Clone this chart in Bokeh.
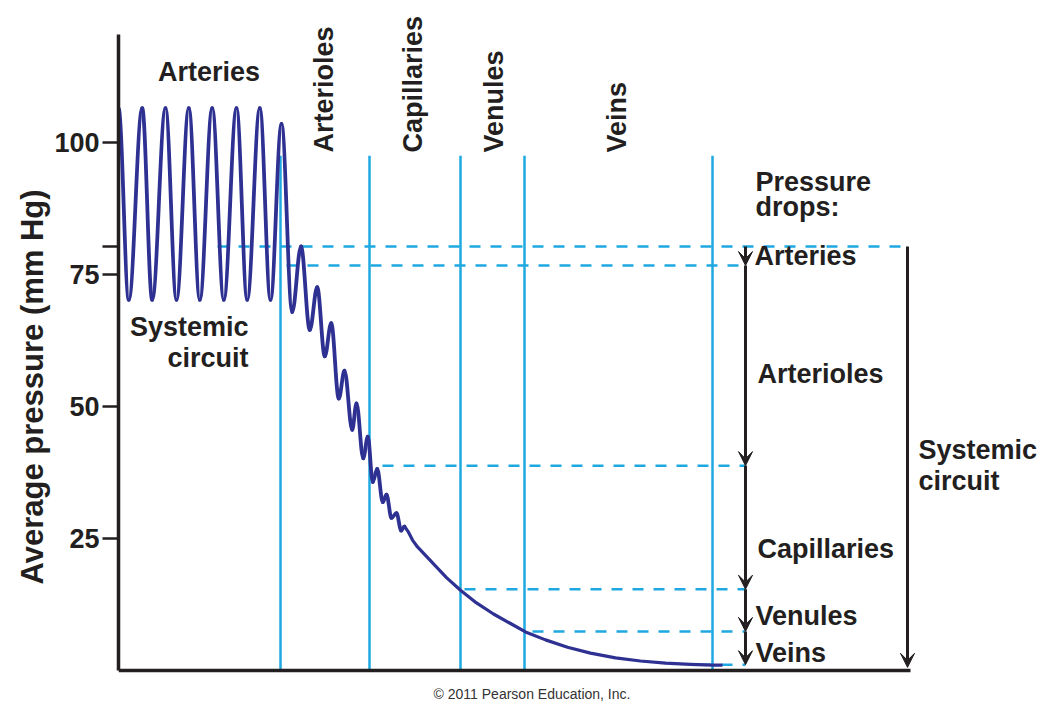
import numpy as np
from bokeh.plotting import figure
from bokeh.models import Range1d, FixedTicker, Arrow, VeeHead, Title
from bokeh.embed import file_html
from bokeh.resources import INLINE
from bokeh.core.properties import value

# ---------------- data ----------------
# pressure wave: successive peaks / troughs (position along circuit, mm Hg)
pulse_x = [118, 128.3, 141.7, 151.7, 165, 176, 188.3, 199.3, 211.7, 223.3,
           236, 246.7, 259.3, 270, 281, 291.7, 300.5, 309.3, 316.7, 324.3,
           330.7, 338.3, 344, 351.7, 356, 362.7, 367.3, 372.3, 376.7, 382.3,
           386, 391, 396, 400.7, 404]
pulse_p = [106.5, 70.2, 106.5, 70.2, 106.5, 70.2, 106.5, 70.2, 106.5, 70.2,
           106.5, 70.2, 106.5, 70.2, 103.5, 67.9, 80.3, 64.5, 72.6, 59.5,
           65.8, 51.5, 56.8, 45.6, 50.6, 40.2, 44.3, 35.7, 38.2, 31.9,
           33.3, 28.9, 29.8, 26.5, 27.3]
# smooth venous decay
decay_x = [404, 408, 412, 417, 425, 433, 446, 460, 476, 493, 510, 525,
           545, 567, 590, 615, 640, 665, 690, 712, 722]
decay_p = [27.3, 26.2, 24.7, 23.4, 21.8, 20.2, 17.6, 15.2, 12.8, 10.7, 8.9, 7.3,
           5.8, 4.4, 3.3, 2.4, 1.8, 1.4, 1.15, 1.0, 1.0]

vessel_bound_x = [280, 369, 460, 524, 712]
vessel_bound_top = 97.5
vessel_names = ["Arterioles", "Capillaries", "Venules", "Veins"]
vessel_name_x = [323, 412, 493, 616]

drop_levels = [80.3, 76.7, 38.8, 15.4, 7.4, 1.1]
drop_start_x = [217, 286, 382, 464, 532, 700]
drop_end_x = [907, 745, 745, 745, 745, 745]
drop_names = ["Arteries", "Arterioles", "Capillaries", "Venules", "Veins"]
drop_name_p = [78.5, 56.1, 23.0, 10.3, 3.3]
systemic_end = 0.6

y_ticks = [25, 50, 75, 80.3, 100]
y_tick_labels = {25: "25", 50: "50", 75: "75", 80.3: "", 100: "100"}

# ---------------- styles ----------------
NAVY = "#2e3192"
CYAN = "#1ea8e0"
INK = "#231f20"
FONT = value("Liberation Sans")

p = figure(width=1044, height=704,
           x_range=Range1d(118, 1044), y_range=Range1d(-6.439, 126.894),
           x_axis_location=None, output_backend="svg", toolbar_location=None,
           min_border_left=118, min_border_right=0, min_border_top=0,
           min_border_bottom=0)
p.outline_line_color = None
p.grid.visible = False
p.background_fill_color = "white"

ax = p.yaxis[0]
ax.ticker = FixedTicker(ticks=y_ticks)
ax.major_label_overrides = y_tick_labels
ax.bounds = (0, 120.5)
ax.axis_line_width = 3.5
ax.axis_line_color = INK
ax.major_tick_line_width = 2.5
ax.major_tick_line_color = INK
ax.major_tick_out = 16
ax.major_tick_in = 0
ax.minor_tick_line_color = None
ax.major_label_standoff = 3
ax.major_label_text_font = "Liberation Sans"
ax.major_label_text_font_style = "bold"
ax.major_label_text_font_size = "27px"
ax.major_label_text_color = INK

# y-axis title (vertical, on the left), starting near 0-level like the reference
p.add_layout(Title(text="Average pressure (mm Hg)", align="left", offset=120,
                   text_font="Liberation Sans", text_font_style="bold",
                   text_font_size="31px", text_color=INK, standoff=4), "left")

# vessel boundaries
p.segment(x0=vessel_bound_x, y0=[0] * len(vessel_bound_x),
          x1=vessel_bound_x, y1=[vessel_bound_top] * len(vessel_bound_x),
          line_color=CYAN, line_width=2.5)

# dashed pressure-drop levels
p.segment(x0=drop_start_x, y0=drop_levels, x1=drop_end_x, y1=drop_levels,
          line_color=CYAN, line_width=2.5, line_dash="11 10")

# bottom baseline
p.segment(x0=[118], y0=[0], x1=[910], y1=[0], line_color=INK, line_width=3.5)

# pressure wave drawn as smooth bezier arcs between extrema
wx = np.array(pulse_x, dtype=float)
wp = np.array(pulse_p, dtype=float)
dx = wx[1:] - wx[:-1]
k = 0.3642
p.bezier(x0=wx[:-1], y0=wp[:-1], x1=wx[1:], y1=wp[1:],
         cx0=wx[:-1] + k * dx, cy0=wp[:-1], cx1=wx[1:] - k * dx, cy1=wp[1:],
         line_color=NAVY, line_width=3.8, line_cap="round")
p.line(decay_x, decay_p, line_color=NAVY, line_width=3.2, line_join="round")

# arrows for pressure drops
for i in range(len(drop_levels) - 1):
    p.add_layout(Arrow(x_start=745, y_start=drop_levels[i], x_end=745,
                       y_end=drop_levels[i + 1], line_color=INK, line_width=3,
                       end=VeeHead(size=14, fill_color=INK, line_color=INK)))
p.add_layout(Arrow(x_start=907, y_start=drop_levels[0], x_end=907,
                   y_end=systemic_end, line_color=INK, line_width=3,
                   end=VeeHead(size=14, fill_color=INK, line_color=INK)))

common = dict(text_font=FONT, text_font_style="bold", text_font_size="27px",
              text_color=INK, text_baseline="middle")

# vertical vessel names
p.text(x=vessel_name_x, y=[98.1] * 4, text=vessel_names, angle=np.pi / 2,
       text_align="left", **common)
# top "Arteries"
p.text(x=[208.5], y=[113.4], text=["Arteries"], text_align="center", **common)
# left "Systemic circuit"
p.text(x=[248, 248], y=[65.0, 59.2], text=["Systemic", "circuit"],
       text_align="right", **common)
# right annotations
p.text(x=[755, 755], y=[92.6, 87.8], text=["Pressure", "drops:"],
       text_align="left", **common)
p.text(x=[754, 757, 757, 755, 755], y=drop_name_p, text=drop_names,
       text_align="left", **common)
p.text(x=[918, 918], y=[41.7, 35.8], text=["Systemic", "circuit"],
       text_align="left", **common)
# copyright
p.text(x=[531.5], y=[-4.4], text=["\u00a9 2011 Pearson Education, Inc."],
       text_font=FONT, text_font_size="14px", text_color="#333333",
       text_align="center", text_baseline="middle")

open("out.html", "w").write(file_html(p, INLINE))
